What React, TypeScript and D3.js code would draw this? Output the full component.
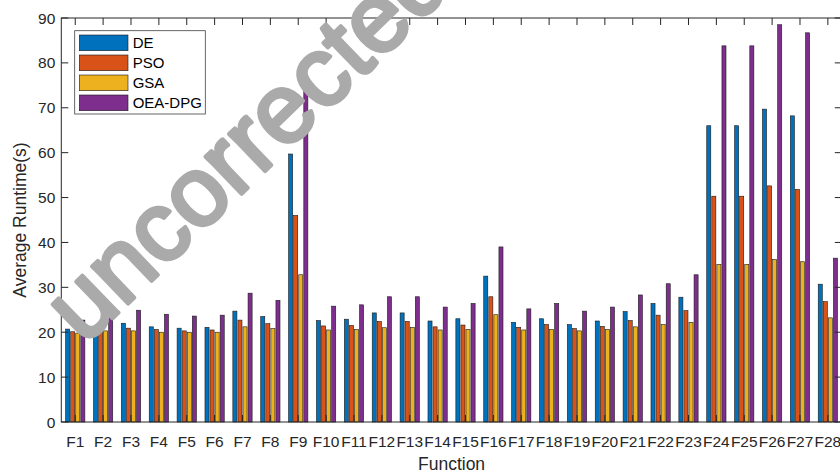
import React from "react";
import * as d3 from "d3";

const categories = Array.from({ length: 28 }, (_, i) => `F${i + 1}`);
const seriesNames = ["DE", "PSO", "GSA", "OEA-DPG"];
const DE = [20.7, 20.9, 22.0, 21.2, 20.9, 21.1, 24.7, 23.5, 59.7, 22.6, 22.9, 24.3, 24.3, 22.5, 23.0, 32.5, 22.2, 23.0, 21.7, 22.5, 24.6, 26.4, 27.8, 66.0, 66.0, 69.7, 68.2, 30.7];
const PSO = [20.1, 21.1, 20.9, 20.6, 20.3, 20.5, 22.7, 21.9, 46.0, 21.4, 21.5, 22.4, 22.4, 21.2, 21.6, 27.9, 21.1, 21.7, 20.8, 21.3, 22.6, 23.8, 24.8, 50.3, 50.3, 52.6, 51.8, 26.8];
const GSA = [19.8, 20.3, 20.3, 20.0, 20.0, 20.0, 21.2, 20.8, 32.8, 20.5, 20.6, 21.0, 21.1, 20.5, 20.6, 23.9, 20.5, 20.6, 20.3, 20.6, 21.2, 21.7, 22.2, 35.1, 35.1, 36.2, 35.7, 23.2];
const OEA_DPG = [22.7, 25.5, 24.9, 24.0, 23.6, 23.8, 28.7, 27.1, 75.4, 25.8, 26.1, 27.9, 27.9, 25.6, 26.4, 39.0, 25.2, 26.4, 24.7, 25.6, 28.3, 30.8, 32.8, 83.8, 83.8, 88.5, 86.7, 36.5];
const yTicks = [0, 10, 20, 30, 40, 50, 60, 70, 80, 90];
const colors = ["#0072BD", "#D95319", "#EDB120", "#7E2F8E"];

const allSeries = [DE, PSO, GSA, OEA_DPG];

const W = 840;
const H = 470;
const left = 61.3;
const right = 841.8;
const top = 18;
const bottom = 422;
const font = "'Liberation Sans', Arial, Helvetica, sans-serif";
const axisColor = "#262626";

export default function App() {
  const x = d3.scaleLinear().domain([0.5, 28.5]).range([left, right]);
  const y = d3.scaleLinear().domain([0, 90]).range([bottom, top]);
  const unit = x(1) - x(0);
  const groupW = 4 / 5.5;
  const slot = groupW / 4;
  const barW = slot * 0.8 * unit;
  const tickLen = 7;

  return (
    <svg
      width={W}
      height={H}
      style={{ position: "absolute", left: 0, top: 0, background: "#fff" }}
      fontFamily={font}
    >
      <rect x={0} y={0} width={W} height={H} fill="#fff" />
      {/* bars */}
      {allSeries.map((vals, s) =>
        vals.map((v, i) => {
          const cx = x(i + 1) + (s - 1.5) * slot * unit;
          return (
            <rect
              key={`${s}-${i}`}
              x={cx - barW / 2}
              y={y(v)}
              width={barW}
              height={y(0) - y(v)}
              fill={colors[s]}
              stroke="#1a1a1a"
              strokeWidth={0.6}
            />
          );
        })
      )}
      {/* axes box */}
      <rect x={left} y={top} width={right - left} height={bottom - top} fill="none" stroke={axisColor} strokeWidth={1} />
      {/* y ticks */}
      {yTicks.map((t) => (
        <g key={`y${t}`}>
          <line x1={left} x2={left + tickLen} y1={y(t)} y2={y(t)} stroke={axisColor} />
          <line x1={right} x2={right - tickLen} y1={y(t)} y2={y(t)} stroke={axisColor} />
          <text x={left - 6} y={y(t) + 5.5} textAnchor="end" fontSize={15.5} fill={axisColor}>
            {t}
          </text>
        </g>
      ))}
      {/* x ticks */}
      {categories.map((c, i) => (
        <g key={c}>
          <line x1={x(i + 1)} x2={x(i + 1)} y1={bottom} y2={bottom - tickLen} stroke={axisColor} />
          <line x1={x(i + 1)} x2={x(i + 1)} y1={top} y2={top + tickLen} stroke={axisColor} />
          <text x={x(i + 1)} y={446.5} textAnchor="middle" fontSize={15.5} fill={axisColor}>
            {c}
          </text>
        </g>
      ))}
      {/* axis labels */}
      <text x={(left + right) / 2} y={469.5} textAnchor="middle" fontSize={17.5} fill={axisColor}>
        Function
      </text>
      <text
        transform={`translate(26,${(top + bottom) / 2}) rotate(-90)`}
        textAnchor="middle"
        fontSize={17.5}
        fill={axisColor}
      >
        Average Runtime(s)
      </text>
      {/* legend */}
      <g>
        <rect x={74.7} y={30.7} width={130.6} height={83.3} fill="#fff" stroke="#404040" strokeWidth={0.8} />
        {seriesNames.map((n, i) => (
          <g key={n}>
            <rect x={79.3} y={35 + i * 20} width={48.7} height={15.7} fill={colors[i]} stroke="#1a1a1a" strokeWidth={0.6} />
            <text x={132.7} y={42.8 + i * 20 + 5.3} fontSize={15} fill="#000">
              {n}
            </text>
          </g>
        ))}
      </g>
      {/* watermark */}
      <text
        transform="translate(84,346) rotate(-44)"
        fontSize={98}
        fill="#aaaaaa"
        stroke="#aaaaaa"
        strokeWidth={4}
        strokeLinejoin="round"
        fontFamily={font}
      >
        uncorrected
      </text>
    </svg>
  );
}
